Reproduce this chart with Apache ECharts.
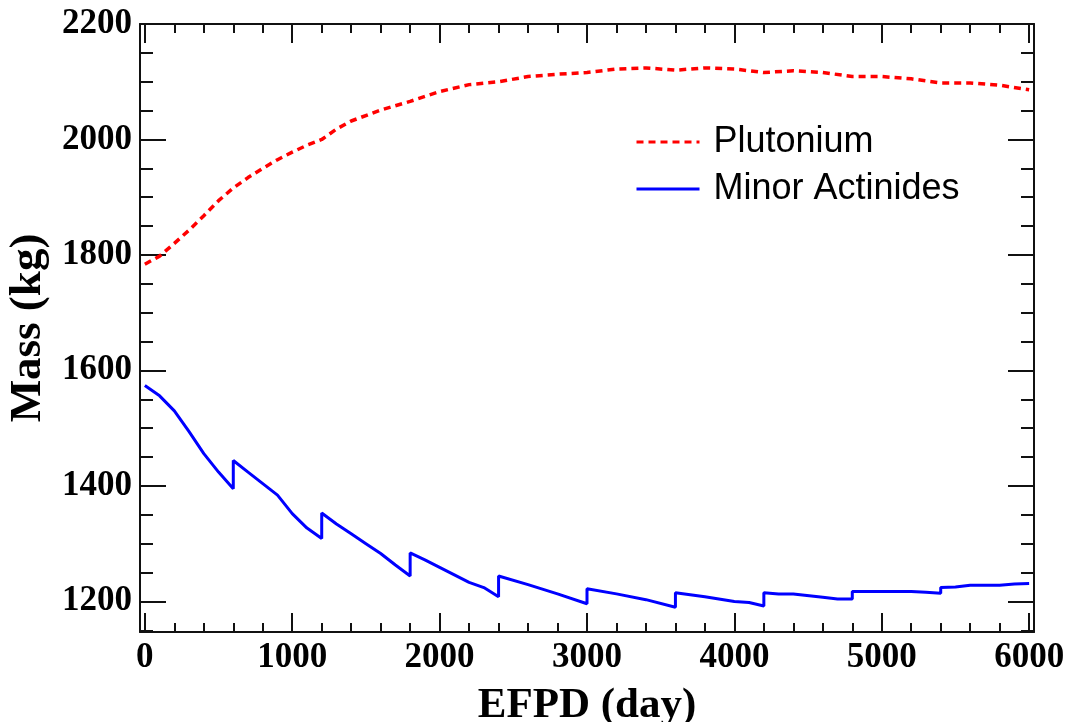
<!DOCTYPE html>
<html>
<head>
<meta charset="utf-8">
<script src="https://cdn.jsdelivr.net/npm/echarts@6/dist/echarts.min.js"></script>
<style>
  html, body { margin: 0; padding: 0; background: #fff; }
  #massChart { width: 1065px; height: 722px; }
</style>
</head>
<body>
<div id="massChart"></div>
<script>
// ticks
var xMajorTicks = [0, 1000, 2000, 3000, 4000, 5000, 6000];
var xMinorTicks = [200, 400, 600, 800, 1200, 1400, 1600, 1800, 2200, 2400, 2600, 2800,
    3200, 3400, 3600, 3800, 4200, 4400, 4600, 4800, 5200, 5400, 5600, 5800];
var yMajorTicks = [1200, 1400, 1600, 1800, 2000, 2200];
var yMinorTicks = [1150, 1250, 1300, 1350, 1450, 1500, 1550, 1650, 1700, 1750,
    1850, 1900, 1950, 2050, 2100, 2150];

// Plutonium
var puDays = [0, 100, 200, 300, 400, 500, 600, 700, 800, 900, 1000, 1100, 1200, 1300, 1400,
    1600, 1800, 2000, 2200, 2400, 2600, 2800, 3000, 3200, 3400, 3600, 3800, 4000, 4200,
    4400, 4600, 4800, 5000, 5200, 5400, 5600, 5800, 6000];
var puMass = [1784, 1798, 1820, 1843, 1868, 1894, 1916, 1934, 1950, 1965, 1978, 1990, 2000, 2018, 2032,
    2051, 2066, 2083, 2095, 2100, 2109, 2113, 2116, 2122, 2124, 2120, 2124, 2122, 2116,
    2119, 2116, 2109, 2109, 2105, 2098, 2098, 2094, 2086];

// Minor Actinides (jumps at each reload)
var maDays = [0, 100, 200, 300, 400, 500, 600,
    600, 700, 800, 900, 1000, 1100, 1200,
    1200, 1300, 1400, 1500, 1600, 1700, 1800,
    1800, 1900, 2000, 2100, 2200, 2300, 2400,
    2400, 2600, 2800, 3000,
    3000, 3200, 3400, 3600,
    3600, 3800, 4000, 4100, 4200,
    4200, 4300, 4400, 4600, 4700, 4800,
    4800, 5000, 5200, 5300, 5400,
    5400, 5500, 5600, 5800, 5900, 6000];
var maMass = [1574, 1556, 1530, 1494, 1456, 1424, 1395,
    1444, 1424, 1404, 1384, 1352, 1327, 1309,
    1353, 1334, 1317, 1300, 1283, 1263, 1244,
    1284, 1272, 1259, 1246, 1233, 1224, 1208,
    1244, 1229, 1213, 1196,
    1222, 1213, 1203, 1190,
    1215, 1208, 1200, 1198, 1192,
    1215, 1213, 1213, 1207, 1204, 1204,
    1217, 1217, 1217, 1216, 1214,
    1224, 1225, 1228, 1228, 1230, 1231];

var serif = 'Liberation Serif';
var frame = { show: true, onZero: false, lineStyle: { color: '#111', width: 2 } };
var noLine = { show: false, onZero: false };

function plain(v) {
    return String(v);
}

function makeX(pos, ticks, len, showLine, showLabel) {
    return {
        type: 'value', position: pos, min: -33, max: 6033,
        axisLine: showLine ? frame : noLine,
        splitLine: { show: false },
        axisTick: { show: true, inside: true, length: len, customValues: ticks,
            lineStyle: { color: '#111', width: 2 } },
        axisLabel: showLabel ? {
            show: true, customValues: ticks, margin: 8, formatter: plain,
            fontFamily: serif, fontWeight: 'bold', fontSize: 35, color: '#000'
        } : { show: false }
    };
}

function makeY(pos, ticks, len, showLine, showLabel) {
    return {
        type: 'value', position: pos, min: 1147, max: 2200,
        axisLine: showLine ? frame : noLine,
        splitLine: { show: false },
        axisTick: { show: true, inside: true, length: len, customValues: ticks,
            lineStyle: { color: '#111', width: 2 } },
        axisLabel: showLabel ? {
            show: true, customValues: ticks, margin: 8, formatter: plain,
            fontFamily: serif, fontWeight: 'bold', fontSize: 35, color: '#000'
        } : { show: false }
    };
}

var chart = echarts.init(document.getElementById('massChart'));

var xAxes = [
    makeX('bottom', xMajorTicks, 19, true, true),
    makeX('bottom', xMinorTicks, 9, false, false),
    makeX('top', xMajorTicks, 19, true, false),
    makeX('top', xMinorTicks, 9, false, false)
];
xAxes[0].name = 'EFPD (day)';
xAxes[0].nameLocation = 'middle';
xAxes[0].nameGap = 52;
xAxes[0].nameTextStyle = { fontFamily: serif, fontWeight: 'bold', fontSize: 43, color: '#000' };

var yAxes = [
    makeY('left', yMajorTicks, 26, true, true),
    makeY('left', yMinorTicks, 13, false, false),
    makeY('right', yMajorTicks, 26, true, false),
    makeY('right', yMinorTicks, 13, false, false)
];
yAxes[0].name = 'Mass (kg)';
yAxes[0].nameLocation = 'middle';
yAxes[0].nameGap = 87;
yAxes[0].nameTextStyle = { fontFamily: serif, fontWeight: 'bold', fontSize: 45, color: '#000' };

var option = {
    animation: false,
    backgroundColor: '#fff',
    grid: { left: 140, right: 31, top: 24, bottom: 90, outerBoundsMode: 'none' },
    legend: {
        orient: 'vertical',
        left: 635, top: 122, padding: 0,
        itemWidth: 63, itemHeight: 14, itemGap: 7,
        itemStyle: { color: 'rgba(0,0,0,0)', borderWidth: 0 },
        lineStyle: { width: 3 },
        textStyle: { fontFamily: 'Liberation Sans', fontSize: 36, color: '#000',
            lineHeight: 40, padding: [0, 0, 0, 9] },
        data: ['Plutonium', 'Minor Actinides']
    },
    xAxis: xAxes,
    yAxis: yAxes,
    series: [
        {
            name: 'Plutonium', type: 'line', symbol: 'none',
            xAxisIndex: 0, yAxisIndex: 0,
            lineStyle: { color: '#ff0000', width: 3.5, type: [7, 5] },
            itemStyle: { color: '#ff0000' },
            data: puDays.map(function (d, i) { return [d, puMass[i]]; })
        },
        {
            name: 'Minor Actinides', type: 'line', symbol: 'none',
            xAxisIndex: 0, yAxisIndex: 0,
            lineStyle: { color: '#0000ff', width: 3 },
            itemStyle: { color: '#0000ff' },
            data: maDays.map(function (d, i) { return [d, maMass[i]]; })
        }
    ]
};
chart.setOption(option);
</script>
</body>
</html>
